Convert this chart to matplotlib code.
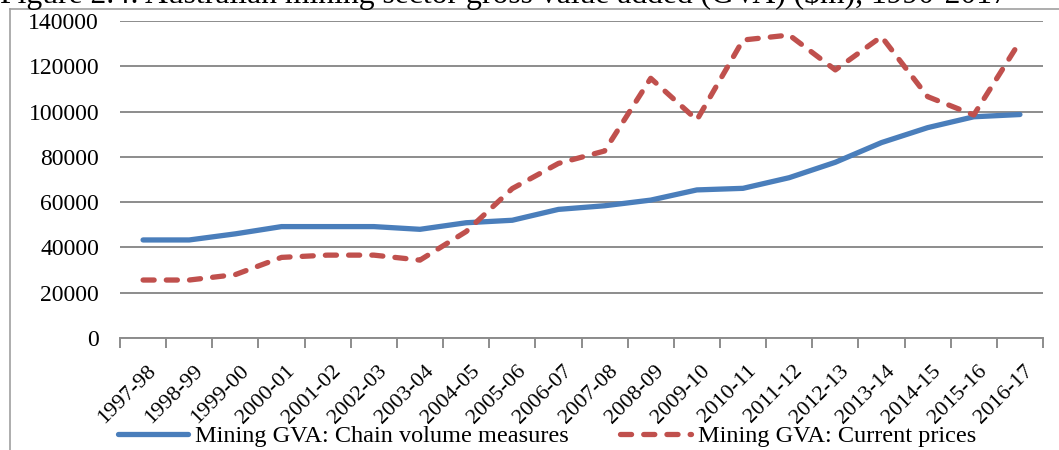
import matplotlib
matplotlib.use("Agg")
import matplotlib.pyplot as plt
import matplotlib.transforms as mtransforms
from matplotlib.lines import Line2D

plt.rcParams['font.family'] = ['Liberation Serif', 'DejaVu Serif']

# Años financieros
years = ['1997-98', '1998-99', '1999-00', '2000-01', '2001-02', '2002-03',
         '2003-04', '2004-05', '2005-06', '2006-07', '2007-08', '2008-09',
         '2009-10', '2010-11', '2011-12', '2012-13', '2013-14', '2014-15',
         '2015-16', '2016-17']

# GVA minero ($m)
chain_volume = [43300, 43300, 46000, 49200, 49200, 49200, 48000, 50900,
                52000, 56800, 58400, 60900, 65400, 66100, 70800, 77600,
                86300, 92900, 97700, 98700]
current_prices = [25600, 25600, 28000, 35600, 36600, 36600, 34400, 47000,
                  66000, 77100, 82600, 114700, 96300, 131600, 133800, 118400,
                  133100, 106600, 98500, 130900]

blue = '#4A7EBB'
red = '#C0504D'
grid_gray = '#8C8C8C'

fig = plt.figure(figsize=(10.59, 4.5), dpi=100)
ax = fig.add_axes([120 / 1059, 1 - 338 / 450, (1043 - 120) / 1059, (338 - 21) / 450])

x = list(range(len(years)))
ax.plot(x, chain_volume, color=blue, lw=3.8, solid_capstyle='round',
        solid_joinstyle='round')
ax.plot(x, current_prices, color=red, lw=3.8, dashes=(2.1, 2.3),
        dash_capstyle='round', dash_joinstyle='round')

ax.set_xlim(-0.5, len(years) - 0.5)
ax.set_ylim(0, 140000)
ax.set_yticks(range(0, 140001, 20000))
ax.set_yticklabels([str(v) for v in range(0, 140001, 20000)], fontsize=17)
ax.tick_params(axis='y', length=0, pad=15)
ax.yaxis.grid(True, color=grid_gray, lw=1.4)
ax.set_axisbelow(True)

# marcas entre categorías, etiquetas centradas
ax.set_xticks([i - 0.5 for i in range(len(years) + 1)], minor=True)
ax.set_xticks(x)
ax.set_xticklabels(years, rotation=45, ha='right', va='top',
                   rotation_mode='anchor', fontsize=16)
ax.tick_params(axis='x', which='major', length=0, pad=17)
ax.tick_params(axis='x', which='minor', length=7, width=1.4, color=grid_gray)
offset = mtransforms.ScaledTranslation(4 / 100, 0, fig.dpi_scale_trans)
for lbl in ax.get_xticklabels():
    lbl.set_transform(lbl.get_transform() + offset)

for side in ['top', 'right', 'left']:
    ax.spines[side].set_visible(False)
ax.spines['bottom'].set_color(grid_gray)
ax.spines['bottom'].set_linewidth(1.4)

# leyenda
handles = [Line2D([], [], color=blue, lw=3.8, solid_capstyle='round'),
           Line2D([], [], color=red, lw=3.8, dashes=(2.1, 2.3),
                  dash_capstyle='round')]
fig.legend(handles, ['Mining GVA: Chain volume measures',
                     'Mining GVA: Current prices'],
           loc='center', bbox_to_anchor=(0.5165, 1 - 436 / 450), ncol=2,
           frameon=False, fontsize=17.5, handlelength=2.9, handletextpad=0.3,
           columnspacing=2.1, borderpad=0)

# marco y título recortado
fig.add_artist(Line2D([10 / 1059, 1], [1 - 8.5 / 450, 1 - 8.5 / 450],
                      color='#A0A0A0', lw=1.2, transform=fig.transFigure))
fig.add_artist(Line2D([10 / 1059, 10 / 1059], [0, 1 - 8.5 / 450],
                      color='#A0A0A0', lw=1.2, transform=fig.transFigure))
fig.text(0, 1 - 3 / 450,
         'Figure 2.4: Australian mining sector gross value added (GVA) ($m), 1990-2017',
         fontsize=22.8, ha='left', va='baseline')

fig.savefig('out.png', dpi=100)
